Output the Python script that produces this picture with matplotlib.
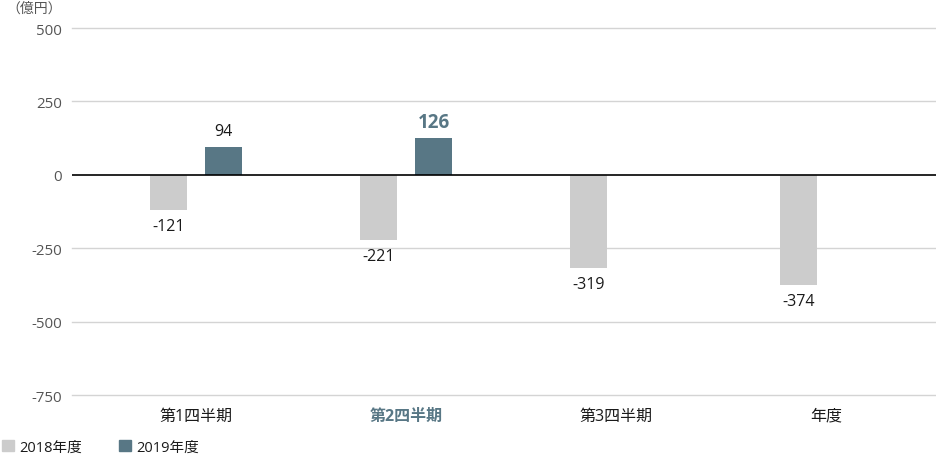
import matplotlib
matplotlib.use("Agg")
import matplotlib.pyplot as plt
from matplotlib.patches import Patch
import numpy as np

plt.rcParams['font.family'] = ['Open Sans', 'Noto Sans CJK JP', 'DejaVu Sans']

categories = ["第1四半期", "第2四半期", "第3四半期", "年度"]
series_names = ["2018年度", "2019年度"]
values_2018 = [-121, -221, -319, -374]
values_2019 = [94, 126, None, None]
yticks = [500, 250, 0, -250, -500, -750]
unit_label = "（億円）"
highlight_index = 1

c2018 = "#cccccc"
c2019 = "#587785"
textc = "#1a1a1a"
tickc = "#555555"

W, H = 936, 456
fig = plt.figure(figsize=(W/100, H/100), dpi=100)
ax = fig.add_axes([72/W, (H-396)/H, (936-72)/W, (396-29)/H])

x = np.arange(len(categories))
bw = 37/210
off = 27.5/210

ax.set_xlim(-124/210, 740/210)
ax.set_ylim(-750, 500)

for yv in yticks:
    if yv == 0:
        continue
    ax.axhline(yv, color="#d4d4d4", lw=1, zorder=0, clip_on=False)

ax.bar(x - off, values_2018, width=bw, color=c2018, zorder=2)
v19x = [xi + off for xi, v in zip(x, values_2019) if v is not None]
v19 = [v for v in values_2019 if v is not None]
ax.bar(v19x, v19, width=bw, color=c2019, zorder=2)
ax.axhline(0, color="black", lw=1.2, zorder=3)

def lab(xp, v, hl):
    kw = dict(ha="center", va="center", fontsize=11.5, color=textc)
    if hl:
        kw.update(color=c2019, fontweight="bold", fontsize=13.5)
    dy = 16 if v >= 0 else -16
    ax.annotate(f"{v}", (xp, v), xytext=(0, dy * 0.72), textcoords="offset points", **kw)

for i, v in enumerate(values_2018):
    lab(x[i] - off, v, False)
for i, v in enumerate(values_2019):
    if v is not None:
        lab(x[i] + off, v, i == highlight_index)

ax.set_yticks(yticks)
ax.set_yticklabels([str(t) for t in yticks], fontsize=10.8, color=tickc)
ax.tick_params(axis="y", length=0, pad=7)
ax.set_xticks(x)
ax.set_xticklabels(categories, fontsize=11.5, color=textc)
ax.tick_params(axis="x", length=0, pad=9)
for i, t in enumerate(ax.get_xticklabels()):
    if i == highlight_index:
        t.set_color(c2019)
        t.set_fontweight("bold")

for s in ax.spines.values():
    s.set_visible(False)

fig.text(62/W, 1 - 9/H, unit_label, ha="right", va="center", fontsize=10, color=tickc)

handles = [Patch(color=c2018, label=series_names[0]), Patch(color=c2019, label=series_names[1])]
leg = fig.legend(handles=handles, loc="center left", bbox_to_anchor=(2/W, 1 - 448/H), ncol=2,
                 frameon=False, fontsize=10.5, handlelength=0.8, handleheight=0.8,
                 handletextpad=0.35, columnspacing=2.6, borderaxespad=0, borderpad=0)
for t in leg.get_texts():
    t.set_color(textc)

fig.savefig("out.png", dpi=100)
